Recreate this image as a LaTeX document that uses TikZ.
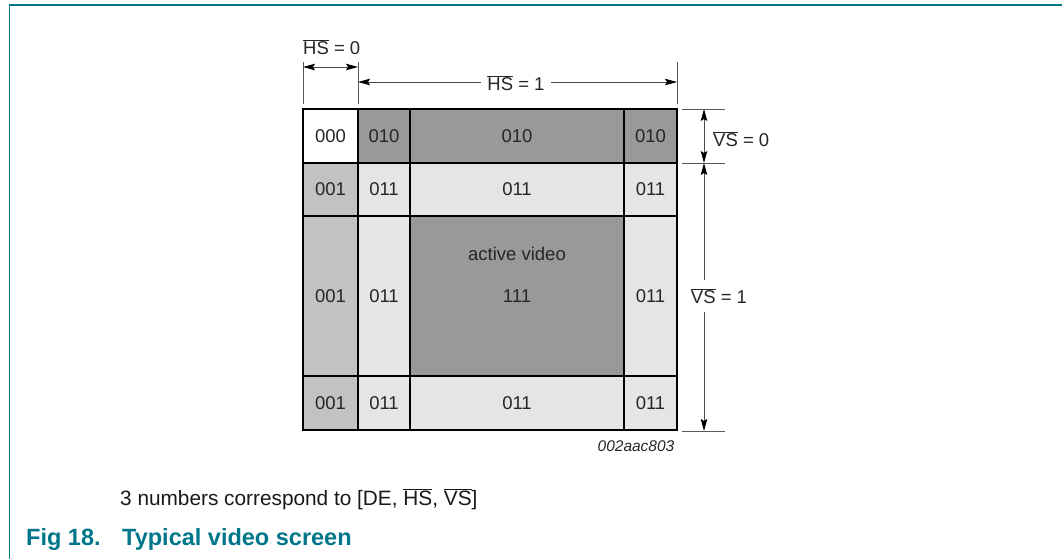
\documentclass[tikz,border=0pt]{standalone}
\usepackage{fontspec}
\setmainfont{Liberation Sans}
\usetikzlibrary{arrows.meta}

\definecolor{figteal}{RGB}{0,118,138}
\definecolor{darkcell}{gray}{0.60}
\definecolor{midcell}{gray}{0.76}
\definecolor{lightcell}{gray}{0.90}

\newcommand{\ovl}[1]{$\overline{\mbox{#1}}$}

\tikzset{
  cell/.style={draw=black, line width=2.2pt, inner sep=0pt, text=black!85,
    font=\fontsize{18.5}{22}\selectfont},
  extline/.style={draw=black!65, line width=0.9pt},
  dimarrow/.style={draw=black!70, line width=0.9pt,
    {Stealth[length=12pt,width=6.5pt,inset=2pt,black]}-{Stealth[length=12pt,width=6.5pt,inset=2pt,black]}},
  dimlabel/.style={fill=white, inner xsep=6pt, inner ysep=8pt, text=black!85,
    font=\fontsize{18.5}{22}\selectfont}
}

\begin{document}
\begin{tikzpicture}[x=1pt,y=-1pt]
\useasboundingbox (0,0) rectangle (1062,559);
% frame
\draw[figteal, line width=1.6pt] (9.5,559) -- (9.5,5) -- (1062,5);

% first row
\node[cell, fill=white, minimum width=55pt, minimum height=54pt] (c11) at (330.5,136) {000};
\node[cell, fill=darkcell, minimum width=52pt, minimum height=54pt] (c12) at (384,136) {010};
\node[cell, fill=darkcell, minimum width=214pt, minimum height=54pt] (c13) at (517,136) {010};
\node[cell, fill=darkcell, minimum width=53pt, minimum height=54pt] (c14) at (650.5,136) {010};
% second row
\node[cell, fill=midcell, minimum width=55pt, minimum height=53pt] (c21) at (330.5,189.5) {001};
\node[cell, fill=lightcell, minimum width=52pt, minimum height=53pt] (c22) at (384,189.5) {011};
\node[cell, fill=lightcell, minimum width=214pt, minimum height=53pt] (c23) at (517,189.5) {011};
\node[cell, fill=lightcell, minimum width=53pt, minimum height=53pt] (c24) at (650.5,189.5) {011};
% third row
\node[cell, fill=midcell, minimum width=55pt, minimum height=160pt] (c31) at (330.5,296) {001};
\node[cell, fill=lightcell, minimum width=52pt, minimum height=160pt] (c32) at (384,296) {011};
\node[cell, fill=darkcell, minimum width=214pt, minimum height=160pt] (c33) at (517,296) {111};
\node[cell, fill=lightcell, minimum width=53pt, minimum height=160pt] (c34) at (650.5,296) {011};
\node[text=black!85, font=\fontsize{18.5}{22}\selectfont] (active) at (517,254) {active video};
% fourth row
\node[cell, fill=midcell, minimum width=55pt, minimum height=54pt] (c41) at (330.5,403) {001};
\node[cell, fill=lightcell, minimum width=52pt, minimum height=54pt] (c42) at (384,403) {011};
\node[cell, fill=lightcell, minimum width=214pt, minimum height=54pt] (c43) at (517,403) {011};
\node[cell, fill=lightcell, minimum width=53pt, minimum height=54pt] (c44) at (650.5,403) {011};

% horizontal dimensions
\draw[extline] (303,62) -- (303,104);
\draw[extline] (358,62) -- (358,104);
\draw[extline] (677,62) -- (677,104);
\coordinate (hs0a) at (303,67);
\coordinate (hs0b) at (358,67);
\coordinate (hs1a) at (358,82);
\coordinate (hs1b) at (677,82);
\draw[dimarrow] (hs0a) -- (hs0b);
\draw[dimarrow] (hs1a) -- (hs1b);
\node[dimlabel, fill=none, anchor=west, inner xsep=0pt] (hs0lab) at (303,47) {\ovl{HS} = 0};
\node[dimlabel] (hs1lab) at (516,83) {\ovl{HS} = 1};

% vertical dimensions
\draw[extline] (682,109) -- (725,109);
\draw[extline] (682,163) -- (725,163);
\draw[extline] (682,431) -- (725,431);
\coordinate (vs0a) at (704,109);
\coordinate (vs0b) at (704,163);
\coordinate (vs1a) at (704,163);
\coordinate (vs1b) at (704,431);
\draw[dimarrow] (vs0a) -- (vs0b);
\draw[dimarrow] (vs1a) -- (vs1b);
\node[dimlabel, fill=none, anchor=west, inner xsep=0pt] (vs0lab) at (713,139) {\ovl{VS} = 0};
\node[dimlabel, inner xsep=0pt] (vs1lab) at (719,296) {\ovl{VS} = 1};

% figure code and caption
\node[text=black!85, font=\fontsize{15.5}{18}\selectfont\itshape] (figcode) at (636,446) {002aac803};
\node[anchor=base west, inner sep=0pt, text=black!90, font=\fontsize{20.8}{24}\selectfont] (note) at (120,505) {3 numbers correspond to [DE, \ovl{HS}, \ovl{VS}]};
\node[anchor=base west, inner sep=0pt, text=figteal, font=\fontsize{23.5}{28}\selectfont\bfseries] (figno) at (26,545) {Fig 18.};
\node[anchor=base west, inner sep=0pt, text=figteal, font=\fontsize{23.5}{28}\selectfont\bfseries] (figtitle) at (122,545) {Typical video screen};
\end{tikzpicture}
\end{document}
